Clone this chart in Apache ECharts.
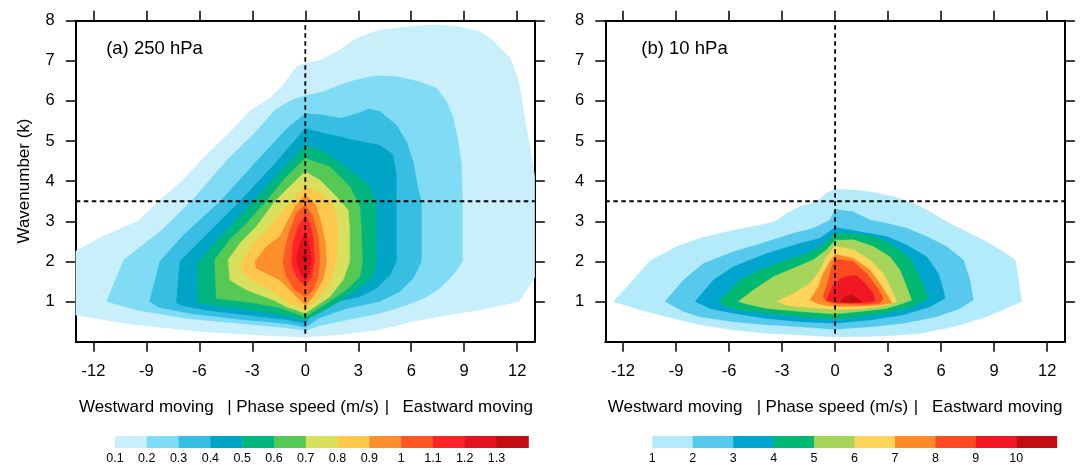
<!DOCTYPE html>
<html><head><meta charset="utf-8">
<script src="https://cdn.jsdelivr.net/npm/echarts@6/dist/echarts.min.js"></script>
<style>html,body{margin:0;padding:0;background:#fff;}#c{width:1084px;height:465px;}</style>
</head><body><div id="c"></div>
<script>
// ---- axis ticks ----
const xTicks = [-12, -9, -6, -3, 0, 3, 6, 9, 12];
const yTicks = [1, 2, 3, 4, 5, 6, 7, 8];

// ---- contour levels and colours ----
const levelsA = ['0.1','0.2','0.3','0.4','0.5','0.6','0.7','0.8','0.9','1','1.1','1.2','1.3'];
const colorsA = ['#c8effa','#80dcf5','#38bde3','#00a5c6','#00b57e','#55c956','#d8e05e','#fec84d','#fd8e2c','#fd5723','#fd2427','#e3121e','#c20d14'];
const levelsB = ['1','2','3','4','5','6','7','8','9','10'];
const colorsB = ['#b4ebfa','#56c9ec','#00a4cc','#00b872','#a5d65b','#fed55b','#fe8a28','#fc4a22','#f01624','#c40d12'];

// ---- (a) 250 hPa: contour outlines [phase speed, wavenumber] ----
const a01 = [[-13,2.26],[-11.5,2.62],[-9.5,3.0],[-8.3,3.5],[-7.0,4.0],[-5.6,4.65],[-4.2,5.25],[-3.05,5.78],[-2.0,6.07],[-1.26,6.4],[-0.5,6.85],[0,6.94],[0.9,7.02],[1.8,7.23],[2.9,7.56],[4.2,7.77],[6.1,7.86],[7.4,7.9],[8.6,7.86],[9.9,7.73],[10.6,7.52],[11.6,7.07],[12.1,6.48],[12.5,5.4],[12.9,4.4],[13,4.1],[13,1.6],[12.1,1.0],[10,0.8],[8,0.66],[6,0.5],[4.2,0.3],[2,0.18],[0,0.11],[-2,0.15],[-5.8,0.25],[-9.6,0.42],[-13,0.66]];
const a02 = [[-11.26,1.0],[-10.28,2.04],[-8.14,2.78],[-6.35,3.55],[-4.43,4.53],[-2.87,5.2],[-1.7,5.78],[-0.73,6.03],[0,6.13],[1.0,6.23],[1.96,6.4],[2.9,6.53],[4.03,6.63],[5.16,6.61],[6.49,6.48],[7.43,6.32],[8.0,5.99],[8.38,5.57],[8.66,4.99],[8.85,4.41],[8.9,3.57],[8.9,2.0],[8.38,1.66],[7.62,1.33],[6.87,1.12],[5.73,0.91],[4.22,0.71],[2.33,0.54],[0.82,0.40],[0,0.28],[-1.07,0.35],[-3.9,0.46],[-6.73,0.58],[-9.57,0.79]];
const a03 = [[-8.82,1.0],[-8.24,2.0],[-6.9,2.66],[-4.84,3.49],[-2.77,4.49],[-1.07,5.3],[0,5.69],[1.0,5.65],[2.0,5.57],[2.9,5.68],[3.6,5.8],[4.22,5.74],[5.16,5.4],[5.73,4.99],[6.11,4.49],[6.39,3.82],[6.58,3.49],[6.58,2.0],[6.11,1.58],[5.35,1.25],[4.22,1.0],[2.33,0.83],[0.82,0.6],[0,0.36],[-1,0.45],[-3.5,0.55],[-6.5,0.7],[-8.3,0.86]];
const a04 = [[-7.3,0.98],[-7.11,2.0],[-3.7,3.5],[-1.8,4.4],[0,5.32],[1.0,5.2],[2.0,5.1],[3.0,5.0],[3.6,4.95],[4.2,4.9],[4.97,4.66],[5.16,4.16],[5.16,2.0],[4.79,1.66],[4.03,1.33],[3.09,1.12],[1.39,0.96],[0.44,0.72],[0,0.46],[-1,0.55],[-3,0.65],[-5.5,0.78],[-7.0,0.9]];
const a05 = [[-6.07,0.96],[-6.07,2.0],[-4.5,2.75],[-2.95,3.5],[-1.5,4.2],[0,4.9],[1.0,4.75],[1.96,4.45],[2.9,4.15],[3.6,3.9],[4.0,3.5],[4.03,2.0],[3.84,1.62],[2.9,1.29],[1.77,0.96],[0.82,0.72],[0,0.54],[-2,0.72],[-4,0.85]];
const a06 = [[-5.05,1.08],[-5.13,2.04],[-4.28,2.54],[-3.33,2.95],[-2.19,3.51],[-1.07,4.11],[0,4.57],[1.39,4.36],[2.52,3.87],[3.09,3.37],[3.18,2.78],[3.24,1.95],[3.09,1.62],[2.33,1.29],[1.2,0.96],[0,0.62],[-1.5,0.85],[-3,0.97]];
const a07 = [[-4.28,1.54],[-4.37,2.04],[-3.71,2.45],[-2.77,2.87],[-1.7,3.51],[-0.88,3.87],[0,4.24],[0.82,4.03],[1.76,3.62],[2.43,3.28],[2.52,2.78],[2.52,2.0],[2.14,1.54],[1.39,1.12],[0,0.71],[-1.07,0.87],[-1.82,1.04],[-3.33,1.29]];
const a08 = [[-3.62,1.79],[-3.62,2.0],[-2.96,2.45],[-2.2,2.78],[-1.44,3.2],[-0.73,3.51],[0,3.9],[0.82,3.7],[1.48,3.49],[1.76,3.12],[1.86,2.53],[1.76,2.0],[1.48,1.54],[0.82,1.12],[0,0.79],[-0.88,0.96],[-1.63,1.2],[-2.39,1.37],[-3.33,1.62]];
const a09 = [[-2.86,2.0],[-2.2,2.37],[-1.44,2.62],[-0.88,3.12],[-0.5,3.41],[0,3.66],[0.6,3.41],[0.9,2.95],[1.15,2.45],[1.2,1.95],[1.01,1.54],[0.44,1.12],[0,0.91],[-0.69,1.21],[-1.44,1.54],[-2.2,1.7],[-2.77,1.83]];
const a10 = [[-1.26,1.95],[-1.16,2.29],[-0.88,2.78],[-0.5,3.2],[0,3.41],[0.44,3.12],[0.73,2.62],[0.82,2.04],[0.73,1.62],[0.44,1.29],[0,1.12],[-0.6,1.29],[-1.07,1.62]];
const a11 = [[-0.78,1.95],[-0.69,2.45],[-0.4,2.87],[0,3.16],[0.25,2.95],[0.44,2.62],[0.54,2.04],[0.35,1.62],[0,1.37],[-0.5,1.62]];
const a12 = [[-0.5,2.04],[-0.31,2.45],[0,2.74],[0.22,2.45],[0.35,2.04],[0.22,1.7],[0,1.54],[-0.27,1.7]];
const a13 = [[-0.2,2.08],[0,2.2],[0.15,2.08],[0,1.98]];

// ---- (b) 10 hPa: contour outlines ----
const b01 = [[-12.54,1.0],[-11.41,1.54],[-10.47,2.02],[-8.96,2.37],[-7.64,2.58],[-5.75,2.78],[-4.24,2.91],[-3.4,2.99],[-2.74,3.2],[-1.99,3.37],[-1.04,3.49],[-0.48,3.7],[0,3.8],[1.03,3.78],[1.97,3.74],[3.29,3.62],[4.42,3.45],[5.37,3.24],[6.31,2.99],[7.44,2.74],[8.57,2.49],[9.52,2.24],[10.18,2.04],[10.36,1.62],[10.55,1.0],[8.57,0.62],[6.69,0.37],[4.8,0.21],[2.92,0.14],[0,0.12],[-1.99,0.17],[-3.87,0.21],[-5.75,0.29],[-7.64,0.42],[-9.52,0.62],[-11.0,0.79]];
const b02 = [[-9.62,1.0],[-8.58,1.54],[-7.45,1.95],[-5.75,2.24],[-3.87,2.49],[-2.36,2.7],[-1.23,2.83],[-0.29,3.03],[0,3.3],[1.03,3.24],[1.97,3.03],[2.92,2.95],[4.05,2.83],[5.18,2.62],[6.31,2.37],[7.25,2.04],[7.63,1.54],[7.82,1.04],[7.06,0.83],[5.74,0.62],[3.86,0.46],[1.97,0.37],[0,0.31],[-1.99,0.37],[-3.87,0.42],[-5.75,0.5],[-7.64,0.62],[-8.58,0.75]];
const b03 = [[-7.92,1.0],[-6.88,1.54],[-5.75,1.87],[-3.87,2.2],[-1.99,2.45],[-0.85,2.58],[0,2.85],[1.41,2.74],[2.92,2.62],[4.05,2.41],[5.18,2.12],[5.84,1.7],[6.12,1.29],[6.22,1.08],[5.37,0.87],[3.86,0.67],[1.97,0.54],[0,0.46],[-1.99,0.5],[-3.87,0.58],[-5.75,0.71],[-7.07,0.83]];
const b04 = [[-6.6,1.0],[-6.13,1.2],[-5.37,1.54],[-4.24,1.79],[-2.74,2.04],[-1.61,2.2],[-0.67,2.41],[0,2.7],[1.03,2.7],[2.16,2.62],[3.29,2.41],[4.24,2.08],[4.8,1.62],[5.08,1.29],[5.27,1.08],[4.42,0.87],[2.92,0.71],[1.41,0.62],[0,0.56],[-1.99,0.62],[-3.87,0.71],[-5.37,0.79],[-6.32,0.91]];
const b05 = [[-5.47,1.0],[-4.62,1.29],[-3.49,1.62],[-2.36,1.83],[-1.23,2.04],[-0.48,2.29],[0,2.53],[1.03,2.54],[2.16,2.37],[3.1,2.12],[3.67,1.79],[4.05,1.37],[4.33,1.04],[3.86,0.96],[2.92,0.83],[1.41,0.75],[0,0.69],[-1.99,0.75],[-3.87,0.83],[-5.18,0.96]];
const b06 = [[-3.3,1.0],[-2.36,1.2],[-1.42,1.45],[-0.85,1.79],[-0.48,2.12],[0,2.38],[1.03,2.29],[1.97,2.04],[2.73,1.7],[3.2,1.29],[3.48,1.0],[2.92,0.91],[1.6,0.83],[0,0.8],[-1.99,0.87],[-2.74,0.91]];
const b07 = [[-1.42,1.04],[-0.95,1.37],[-0.67,1.7],[-0.29,2.0],[0,2.18],[1.03,2.08],[1.97,1.79],[2.54,1.45],[3.01,1.12],[3.2,0.96],[2.35,0.9],[1.03,0.88],[0,0.88],[-0.85,0.93]];
const b08 = [[-0.67,1.12],[-0.38,1.54],[-0.19,1.87],[0,2.06],[1.03,2.0],[1.79,1.7],[2.35,1.37],[2.73,1.08],[2.54,0.96],[1.6,0.93],[0,0.95],[-0.5,1.0]];
const b09 = [[-0.48,1.04],[-0.1,1.41],[0.28,1.56],[0.65,1.63],[1.22,1.65],[1.69,1.45],[2.16,1.2],[2.26,1.0],[1.41,0.97],[0,0.98]];
const b10 = [[0.28,0.99],[0.6,1.13],[0.95,1.17],[1.2,1.09],[1.5,0.99],[0.9,0.97]];

// ---- reference dashed lines ----
const zeroLine = [[0,0.2],[0,8]];
const waveLine = [[-13,3.5],[13,3.5]];

const polysA = [a01,a02,a03,a04,a05,a06,a07,a08,a09,a10,a11,a12,a13];
const polysB = [b01,b02,b03,b04,b05,b06,b07,b08,b09,b10];

const FONT = '"Liberation Sans", Arial, Helvetica, sans-serif';

function contourSeries(ax, polys, colors) {
  return {
    type: 'custom', xAxisIndex: ax, yAxisIndex: ax, silent: true, clip: true, z: 1,
    data: polys.map(p => p[0]),
    renderItem: function (params, api) {
      const p = polys[params.dataIndex];
      return { type: 'polygon', shape: { points: p.map(pt => api.coord(pt)) },
               style: { fill: colors[params.dataIndex], stroke: colors[params.dataIndex], lineWidth: 0.4 } };
    }
  };
}
function dashSeries(ax, pts) {
  return { type: 'line', xAxisIndex: ax, yAxisIndex: ax, data: pts, symbol: 'none', silent: true, z: 5,
           lineStyle: { color: '#000', width: 1.8, type: [4.5, 3.5] }, animation: false };
}
function barSeries(ax, colors) {
  return {
    type: 'custom', xAxisIndex: ax, yAxisIndex: ax, silent: true,
    data: colors.map((c, i) => [i, 0]),
    renderItem: function (params, api) {
      const i = params.dataIndex;
      const p0 = api.coord([i, 1]), p1 = api.coord([i + 1, 0]);
      return { type: 'rect', shape: { x: p0[0], y: p0[1], width: p1[0] - p0[0] + 0.5, height: p1[1] - p0[1] },
               style: { fill: colors[i] } };
    }
  };
}
function xAx(gi, pos, show) {
  return { type: 'value', gridIndex: gi, position: pos, min: -13, max: 13,
    axisLine: { show: true, onZero: false, lineStyle: { color: '#000', width: 2 } },
    axisTick: { show: true, customValues: xTicks, length: 10, lineStyle: { color: '#000', width: 1.5 } },
    axisLabel: { show: show, customValues: xTicks, margin: 21, fontSize: 16.5, color: '#000', fontFamily: FONT },
    splitLine: { show: false } };
}
function yAx(gi, pos, show) {
  return { type: 'value', gridIndex: gi, position: pos, min: 0, max: 8,
    axisLine: { show: true, onZero: false, lineStyle: { color: '#000', width: 2 } },
    axisTick: { show: true, customValues: yTicks, length: 10, lineStyle: { color: '#000', width: 1.5 } },
    axisLabel: { show: show, customValues: yTicks, margin: 21, fontSize: 16.5, color: '#000', fontFamily: FONT },
    splitLine: { show: false } };
}
function cbX(gi, levels) {
  return { type: 'value', gridIndex: gi, min: 0, max: levels.length, interval: 1,
    axisLine: { show: false }, axisTick: { show: false }, splitLine: { show: false },
    axisLabel: { show: true, margin: 4, fontSize: 12.5, color: '#000', fontFamily: FONT,
      showMaxLabel: false, formatter: v => (levels[v] !== undefined ? levels[v] : '') } };
}
function cbY(gi) {
  return { type: 'value', gridIndex: gi, min: 0, max: 1, show: false };
}
function txt(x, y, s, size, rot) {
  return { type: 'text', x: x, y: y, rotation: rot || 0, silent: true,
    style: { text: s, fill: '#000', font: size + 'px ' + FONT, textAlign: 'center', textVerticalAlign: 'middle' } };
}

const chart = echarts.init(document.getElementById('c'), null, { renderer: 'canvas' });
chart.setOption({
  animation: false,
  backgroundColor: '#fff',
  grid: [
    { left: 75.8, top: 20.7, width: 459, height: 321 },
    { left: 605.3, top: 20.7, width: 459.6, height: 321 },
    { left: 115, top: 436, width: 413.3, height: 14 },
    { left: 652.3, top: 436, width: 404.4, height: 14 }
  ],
  xAxis: [ xAx(0, 'bottom', true), xAx(1, 'bottom', true), cbX(2, levelsA), cbX(3, levelsB),
           xAx(0, 'top', false), xAx(1, 'top', false) ],
  yAxis: [ yAx(0, 'left', true), yAx(1, 'left', true), cbY(2), cbY(3),
           yAx(0, 'right', false), yAx(1, 'right', false) ],
  series: [
    contourSeries(0, polysA, colorsA),
    contourSeries(1, polysB, colorsB),
    dashSeries(0, zeroLine), dashSeries(0, waveLine),
    dashSeries(1, zeroLine), dashSeries(1, waveLine),
    barSeries(2, colorsA), barSeries(3, colorsB),
    { type: 'line', xAxisIndex: 4, yAxisIndex: 4, data: [] },
    { type: 'line', xAxisIndex: 5, yAxisIndex: 5, data: [] }
  ],
  graphic: [
    txt(154.5, 49, '(a) 250 hPa', 18.5),
    txt(684.5, 49, '(b) 10 hPa', 18.5),
    txt(24, 181, 'Wavenumber (k)', 17, Math.PI / 2),
    txt(146.3, 407, 'Westward moving', 17), txt(229.5, 407, '|', 17),
    txt(307.6, 407, 'Phase speed (m/s)', 17), txt(387, 407, '|', 17),
    txt(467.7, 407, 'Eastward moving', 17),
    txt(675.1, 407, 'Westward moving', 17), txt(759, 407, '|', 17),
    txt(836.9, 407, 'Phase speed (m/s)', 17), txt(916, 407, '|', 17),
    txt(997.3, 407, 'Eastward moving', 17)
  ]
});
</script>
</body></html>
